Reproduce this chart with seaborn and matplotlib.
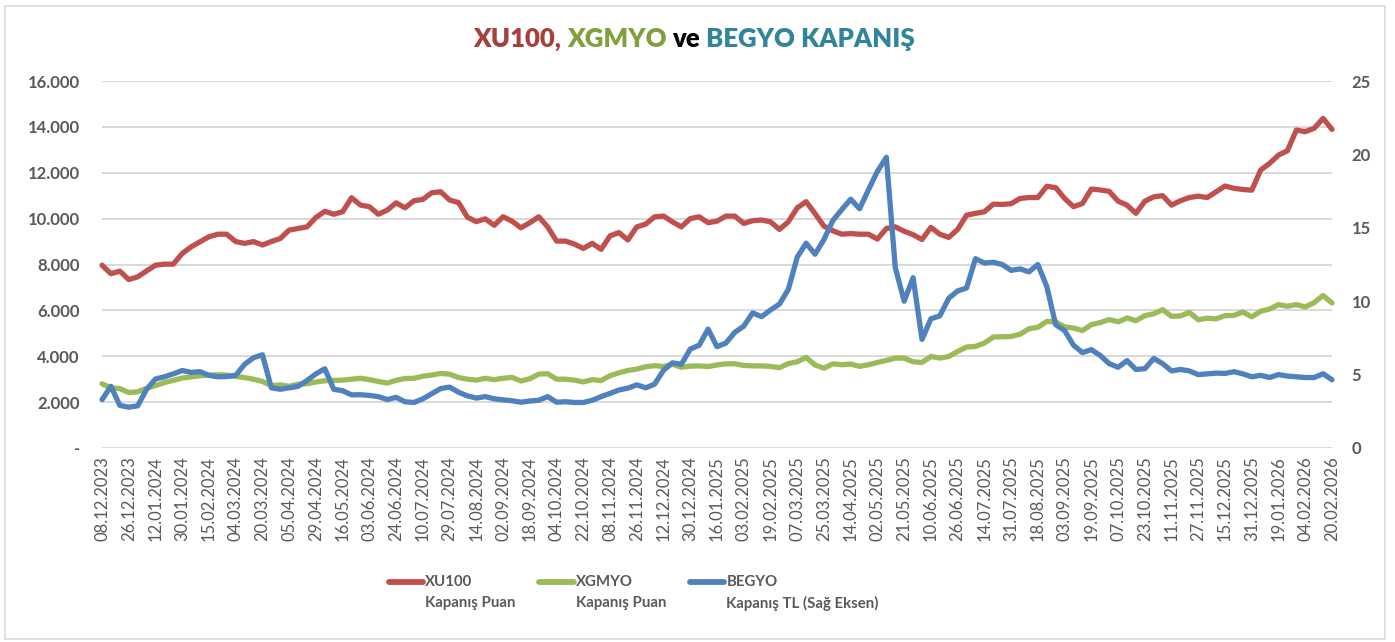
import numpy as np
import pandas as pd
import matplotlib
matplotlib.use("Agg")
import matplotlib.pyplot as plt
import seaborn as sns
from matplotlib.legend_handler import HandlerLine2D
from matplotlib.lines import Line2D
from matplotlib.patches import Rectangle
from matplotlib.ticker import FixedLocator, FuncFormatter

# ---------------- data ----------------
tick_labels = [
    "08.12.2023", "26.12.2023", "12.01.2024", "30.01.2024", "15.02.2024", "04.03.2024",
    "20.03.2024", "05.04.2024", "29.04.2024", "16.05.2024", "03.06.2024", "24.06.2024",
    "10.07.2024", "29.07.2024", "14.08.2024", "02.09.2024", "18.09.2024", "04.10.2024",
    "22.10.2024", "08.11.2024", "26.11.2024", "12.12.2024", "30.12.2024", "16.01.2025",
    "03.02.2025", "19.02.2025", "07.03.2025", "25.03.2025", "14.04.2025", "02.05.2025",
    "21.05.2025", "10.06.2025", "26.06.2025", "14.07.2025", "31.07.2025", "18.08.2025",
    "03.09.2025", "19.09.2025", "07.10.2025", "23.10.2025", "11.11.2025", "27.11.2025",
    "15.12.2025", "31.12.2025", "19.01.2026", "04.02.2026", "20.02.2026",
]
SESSIONS_PER_LABEL = 12   # one date label every 12 trading sessions
SAMPLE_STEP = 4           # values below are read every 4th trading session

xu100 = [
    7970, 7600, 7710, 7345, 7460, 7720, 7970, 8015, 8015, 8480, 8770, 8990, 9210, 9320, 9320,
    9000, 8920, 9000, 8850, 9000, 9135,
    9500, 9570, 9640, 10050, 10320, 10190, 10300, 10910, 10590, 10520, 10190, 10370, 10690,
    10470, 10780, 10840, 11130, 11170, 10810, 10700,
    10060, 9870, 9990, 9710, 10080, 9890, 9600, 9820, 10080, 9640, 9020, 9020, 8890, 8700,
    8920, 8660, 9250, 9390, 9070, 9640,
    9760, 10080, 10110, 9860, 9640, 10000, 10080, 9820, 9890, 10110, 10110, 9790, 9910, 9940,
    9860, 9530, 9860, 10470, 10740, 10220,
    9670, 9470, 9320, 9350, 9320, 9320, 9110, 9570, 9640, 9450, 9300, 9090, 9620, 9320, 9180,
    9530, 10150, 10230, 10300, 10630,
    10620, 10650, 10880, 10920, 10920, 11410, 11350, 10880, 10520, 10660, 11290, 11250, 11190,
    10760, 10590, 10230, 10760, 10950, 11000, 10590,
    10780, 10920, 10980, 10920, 11170, 11420, 11320, 11270, 11240, 12120, 12410, 12770, 12960,
    13860, 13790, 13940, 14370, 13890,
]
xgmyo = [
    2800, 2620, 2590, 2420, 2450, 2600, 2720, 2850, 2950, 3050, 3100, 3150, 3180, 3190, 3180,
    3120, 3070, 3000, 2900, 2720, 2750,
    2690, 2780, 2800, 2880, 2930, 2950, 2960, 3000, 3040, 2980, 2900, 2830, 2950, 3030, 3040,
    3130, 3180, 3250, 3220, 3070,
    3000, 2960, 3040, 2980, 3040, 3080, 2920, 3020, 3220, 3240, 3000, 3000, 2960, 2880, 2980,
    2940, 3150, 3280, 3380, 3440,
    3540, 3590, 3550, 3650, 3520, 3570, 3580, 3550, 3620, 3670, 3670, 3600, 3580, 3580, 3560,
    3500, 3680, 3760, 3950, 3620,
    3480, 3670, 3630, 3660, 3560, 3630, 3730, 3820, 3920, 3920, 3760, 3730, 3990, 3920, 3990,
    4210, 4400, 4430, 4575, 4840,
    4850, 4860, 4960, 5200, 5260, 5520, 5500, 5280, 5230, 5120, 5380, 5470, 5600, 5500, 5670,
    5550, 5770, 5850, 6030, 5740,
    5760, 5910, 5590, 5660, 5630, 5770, 5780, 5930, 5720, 5960, 6060, 6250, 6180, 6250, 6150,
    6340, 6650, 6320,
]
begyo = [
    3.29, 4.2, 2.9, 2.78, 2.87, 4.0, 4.7, 4.85, 5.05, 5.28, 5.15, 5.2, 4.95, 4.85, 4.87,
    4.95, 5.7, 6.15, 6.35, 4.1, 4.0,
    4.1, 4.2, 4.6, 5.05, 5.4, 4.0, 3.9, 3.62, 3.63, 3.58, 3.5, 3.3, 3.45, 3.15, 3.1,
    3.35, 3.7, 4.05, 4.15, 3.8,
    3.55, 3.4, 3.5, 3.35, 3.28, 3.22, 3.12, 3.2, 3.25, 3.5, 3.12, 3.15, 3.1, 3.1, 3.25,
    3.5, 3.72, 3.95, 4.08, 4.3,
    4.1, 4.35, 5.3, 5.8, 5.7, 6.74, 7.0, 8.1, 6.9, 7.15, 7.88, 8.3, 9.2, 8.95, 9.4,
    9.8, 10.8, 13.0, 13.95, 13.2,
    14.2, 15.5, 16.24, 16.95, 16.3, 17.6, 18.85, 19.8, 12.3, 10.0, 11.6, 7.4, 8.8, 9.0, 10.2,
    10.7, 10.9, 12.9, 12.6, 12.65,
    12.5, 12.1, 12.2, 12.0, 12.5, 11.0, 8.4, 8.0, 7.0, 6.5, 6.7, 6.3, 5.75, 5.5, 5.95,
    5.35, 5.4, 6.1, 5.75, 5.25,
    5.35, 5.25, 5.0, 5.05, 5.1, 5.08, 5.2, 5.05, 4.85, 4.95, 4.8, 5.0, 4.9, 4.85, 4.8,
    4.8, 5.06, 4.65,
]
series_names = ["XU100\nKapanış Puan", "XGMYO\nKapanış Puan", "BEGYO\nKapanış TL (Sağ Eksen)"]

# ---------------- styling ----------------
RED = "#C0504D"
GREEN = "#9BBB59"
BLUE = "#4F81BD"
GRID = "#D9D9D9"
TXT = "#595959"

df = pd.DataFrame({
    "session": np.arange(len(xu100)) * SAMPLE_STEP,
    "XU100": xu100,
    "XGMYO": xgmyo,
    "BEGYO": begyo,
})

sns.set_style("white")
plt.rcParams["font.family"] = ["Lato", "DejaVu Sans"]

W, H = 1395, 642
fig = plt.figure(figsize=(W / 100, H / 100), dpi=100, facecolor="white")
ax = fig.add_axes([102 / W, 1 - 448 / H, 1230 / W, 367 / H])
ax2 = ax.twinx()

line_kw = dict(lw=3.8, solid_capstyle="round", solid_joinstyle="round", clip_on=False)
sns.lineplot(data=df, x="session", y="XU100", ax=ax, color=RED, legend=False, **line_kw)
sns.lineplot(data=df, x="session", y="XGMYO", ax=ax, color=GREEN, legend=False, **line_kw)
sns.lineplot(data=df, x="session", y="BEGYO", ax=ax2, color=BLUE, legend=False, **line_kw)

n_sessions = (len(tick_labels) - 1) * SESSIONS_PER_LABEL
ax.set_xlim(0, n_sessions)
ax.set_ylim(0, 16000)
ax2.set_ylim(0, 25)

ax.yaxis.set_major_locator(FixedLocator(np.arange(0, 16001, 2000)))
ax.yaxis.set_major_formatter(FuncFormatter(lambda v, p: "-" if v == 0 else f"{v:,.0f}".replace(",", ".")))
ax2.yaxis.set_major_locator(FixedLocator(np.arange(0, 26, 5)))
ax2.yaxis.set_major_formatter(FuncFormatter(lambda v, p: f"{v:.0f}"))

ax.set_xticks(np.arange(len(tick_labels)) * SESSIONS_PER_LABEL)
ax.set_xticklabels(tick_labels, rotation=90, fontsize=12, color=TXT)

ax.grid(axis="y", color=GRID, lw=1.4)
ax.grid(axis="x", visible=False)
ax2.grid(False)
ax.set_axisbelow(True)
for a in (ax, ax2):
    for s in a.spines.values():
        s.set_visible(False)
    a.set_xlabel("")
    a.set_ylabel("")
ax.tick_params(axis="x", length=0, pad=6)
ax.tick_params(axis="y", length=0, pad=16, labelsize=12, labelcolor=TXT)
ax2.tick_params(axis="y", length=0, pad=14, labelsize=12, labelcolor=TXT)
for lab in ax.get_yticklabels() + ax2.get_yticklabels():
    lab.set_fontweight("bold")

# ---------------- legend ----------------
class TopLineHandler(HandlerLine2D):
    def create_artists(self, legend, orig_handle, xdescent, ydescent, width, height, fontsize, trans):
        arts = super().create_artists(legend, orig_handle, xdescent, ydescent, width, height, fontsize, trans)
        for a in arts:
            yd = np.asarray(a.get_ydata(), float)
            a.set_ydata(np.full_like(yd, height * 0.95 - ydescent))
        return arts

handles = [Line2D([0], [0], color=c, lw=4.2, solid_capstyle="round") for c in (RED, GREEN, BLUE)]
leg = fig.legend(handles, series_names, loc="upper left", bbox_to_anchor=(375 / W, 1 - 561 / H),
                 ncol=3, frameon=False, handlelength=2.3, handleheight=2.3, handletextpad=0.15,
                 columnspacing=1.55, prop={"size": 10.8, "weight": "bold"}, labelcolor=TXT,
                 handler_map={Line2D: TopLineHandler()})
for t in leg.get_texts():
    t.set_linespacing(1.6)

# ---------------- multi-coloured title ----------------
renderer = fig.canvas.get_renderer()
title_parts = [("XU100,", "#A5403D"), ("XGMYO", "#7FA13B"), ("ve", "#000000"), ("BEGYO KAPANIŞ", "#31849B")]
tkw = dict(fontsize=18.5, fontweight="heavy", va="baseline", ha="left")
ty = 1 - 47 / H
probe_a = fig.text(0, ty, "X X", **tkw)
probe_b = fig.text(0, ty, "XX", **tkw)
space_w = probe_a.get_window_extent(renderer).width - probe_b.get_window_extent(renderer).width
probe_a.remove()
probe_b.remove()
texts = [fig.text(0, ty, s, color=c, **tkw) for s, c in title_parts]
widths = [t.get_window_extent(renderer).width for t in texts]
total = sum(widths) + space_w * (len(texts) - 1)
xpos = 694 - total / 2
for t, w in zip(texts, widths):
    t.set_x(xpos / W)
    xpos += w + space_w

# chart border
fig.patches.append(Rectangle((5 / W, 3 / H), 1380 / W, 633 / H, transform=fig.transFigure,
                             fill=False, edgecolor="#D9D9D9", lw=1.2))

fig.savefig("out.png", dpi=100, facecolor="white")
